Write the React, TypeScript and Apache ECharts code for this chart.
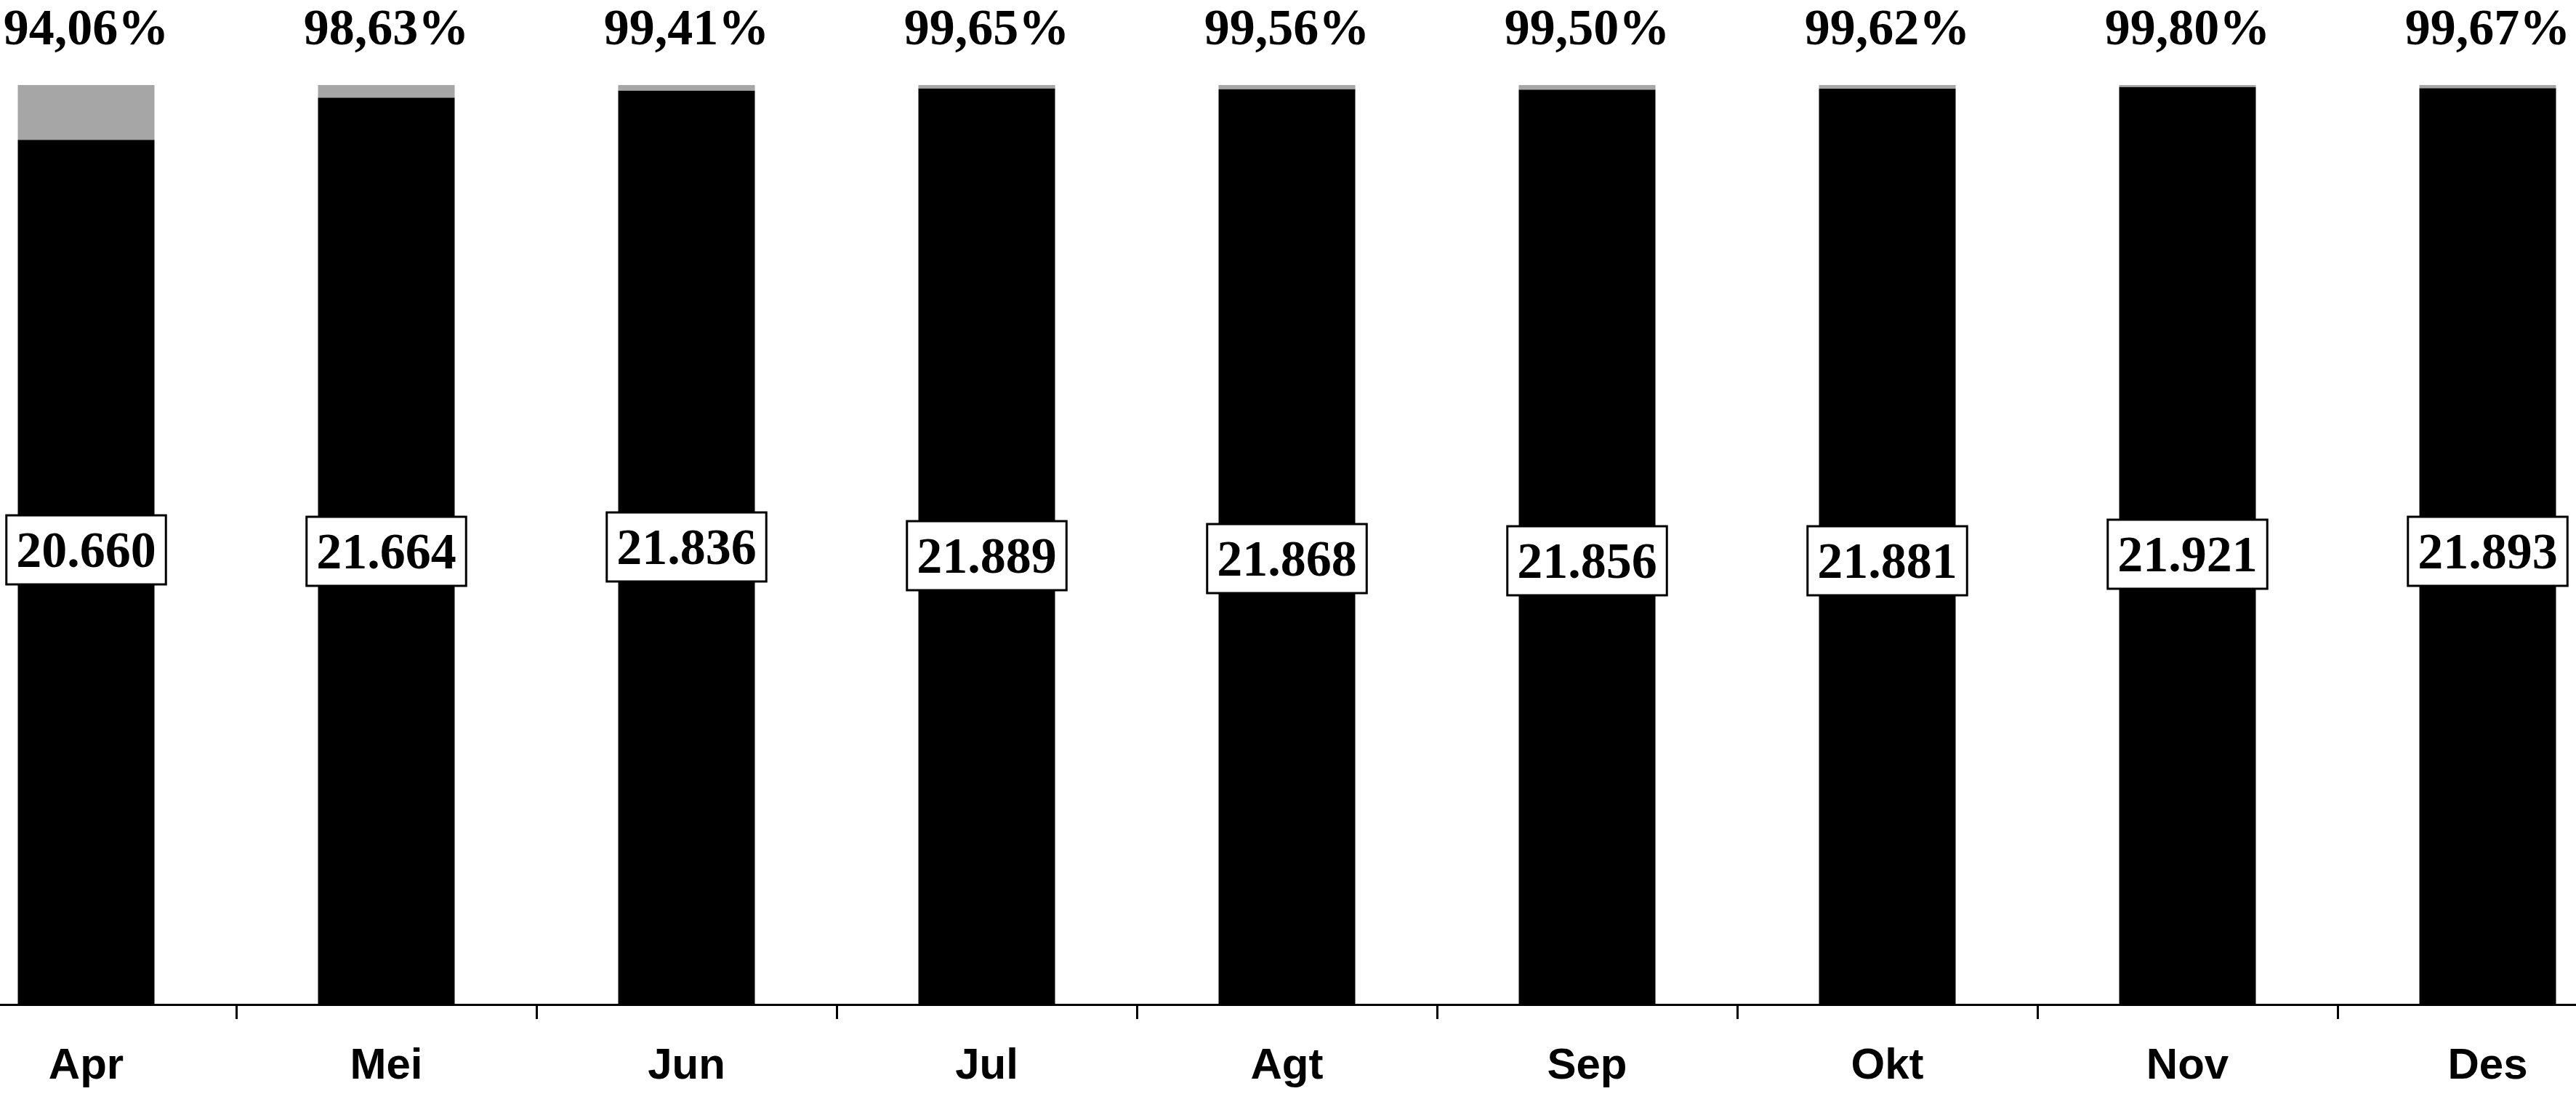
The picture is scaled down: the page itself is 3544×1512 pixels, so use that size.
import React, { useEffect, useRef } from "react";
import * as echarts from "echarts";

const months = ["Apr", "Mei", "Jun", "Jul", "Agt", "Sep", "Okt", "Nov", "Des"];
const percentValues = [94.06, 98.63, 99.41, 99.65, 99.56, 99.5, 99.62, 99.8, 99.67];
const counts = [20660, 21664, 21836, 21889, 21868, 21856, 21881, 21921, 21893];

// pixel nudges of the count boxes relative to the vertical middle of the plot
const labelNudge = [7, 9, 3, 15, 19, 22, 22, 13, 9];

const fmtCount = (v: number) => {
  const s = String(Math.round(v));
  return s.replace(/\B(?=(\d{3})+(?!\d))/g, ".");
};
const fmtPct = (v: number) => v.toFixed(2).replace(".", ",") + "%";

const SERIF = '"Liberation Serif", "Times New Roman", serif';
const SANS = '"Liberation Sans Narrow", "Arial Narrow", "Liberation Sans", Arial, sans-serif';

// the plot is wider than the page: the first and last categories are half cut off
const CHART_W = 3717;
const CHART_SHIFT = -88.5;

export default function App() {
  const ref = useRef<HTMLDivElement>(null);

  useEffect(() => {
    document.body.style.margin = "0";
    document.body.style.overflow = "hidden";
    if (!ref.current) return;
    const chart = echarts.init(ref.current, null, { renderer: "svg" });
    const yMax = 100;
    const option = {
      animation: false,
      backgroundColor: "#ffffff",
      grid: { left: 0, right: 0, top: 117, bottom: 130, containLabel: false },
      xAxis: {
        type: "category",
        data: months,
        axisLine: { show: true, lineStyle: { color: "#000", width: 3 } },
        axisTick: { show: true, length: 20, lineStyle: { color: "#000", width: 3 } },
        axisLabel: {
          color: "#000",
          fontFamily: SANS,
          fontWeight: "bold",
          fontSize: 60,
          margin: 51,
        },
      },
      yAxis: {
        type: "value",
        min: 0,
        max: yMax,
        show: false,
        splitLine: { show: false },
      },
      series: [
        {
          type: "bar",
          stack: "total",
          barWidth: 188,
          data: percentValues,
          itemStyle: { color: "#000000" },
          silent: true,
        },
        {
          type: "bar",
          stack: "total",
          barWidth: 188,
          data: percentValues.map((v) => +(100 - v).toFixed(2)),
          itemStyle: { color: "#a6a6a6" },
          label: {
            show: true,
            position: "top",
            distance: 50,
            color: "#000",
            fontFamily: SERIF,
            fontWeight: "bold",
            fontSize: 70,
            lineHeight: 60,
            formatter: (p: any) => fmtPct(percentValues[p.dataIndex]),
          },
          silent: true,
        },
        {
          type: "scatter",
          symbolSize: 0,
          itemStyle: { opacity: 1 },
          data: counts.map((c, i) => ({
            value: [i, yMax / 2],
            label: { offset: [0, labelNudge[i]] },
          })),
          label: {
            show: true,
            position: "inside",
            opacity: 1,
            color: "#000",
            fontFamily: SERIF,
            fontWeight: "bold",
            fontSize: 70,
            lineHeight: 70,
            backgroundColor: "#ffffff",
            borderColor: "#000",
            borderWidth: 3,
            padding: [11, 12, 11, 12],
            formatter: (p: any) => fmtCount(counts[p.dataIndex]),
          },
          z: 10,
          silent: true,
        },
      ],
    };
    chart.setOption(option as any);
    return () => chart.dispose();
  }, []);

  return (
    <div style={{ width: 3544, height: 1512, overflow: "hidden", position: "relative", background: "#fff" }}>
      <div
        ref={ref}
        style={{ position: "absolute", left: CHART_SHIFT, top: 0, width: CHART_W, height: 1512 }}
      />
    </div>
  );
}
